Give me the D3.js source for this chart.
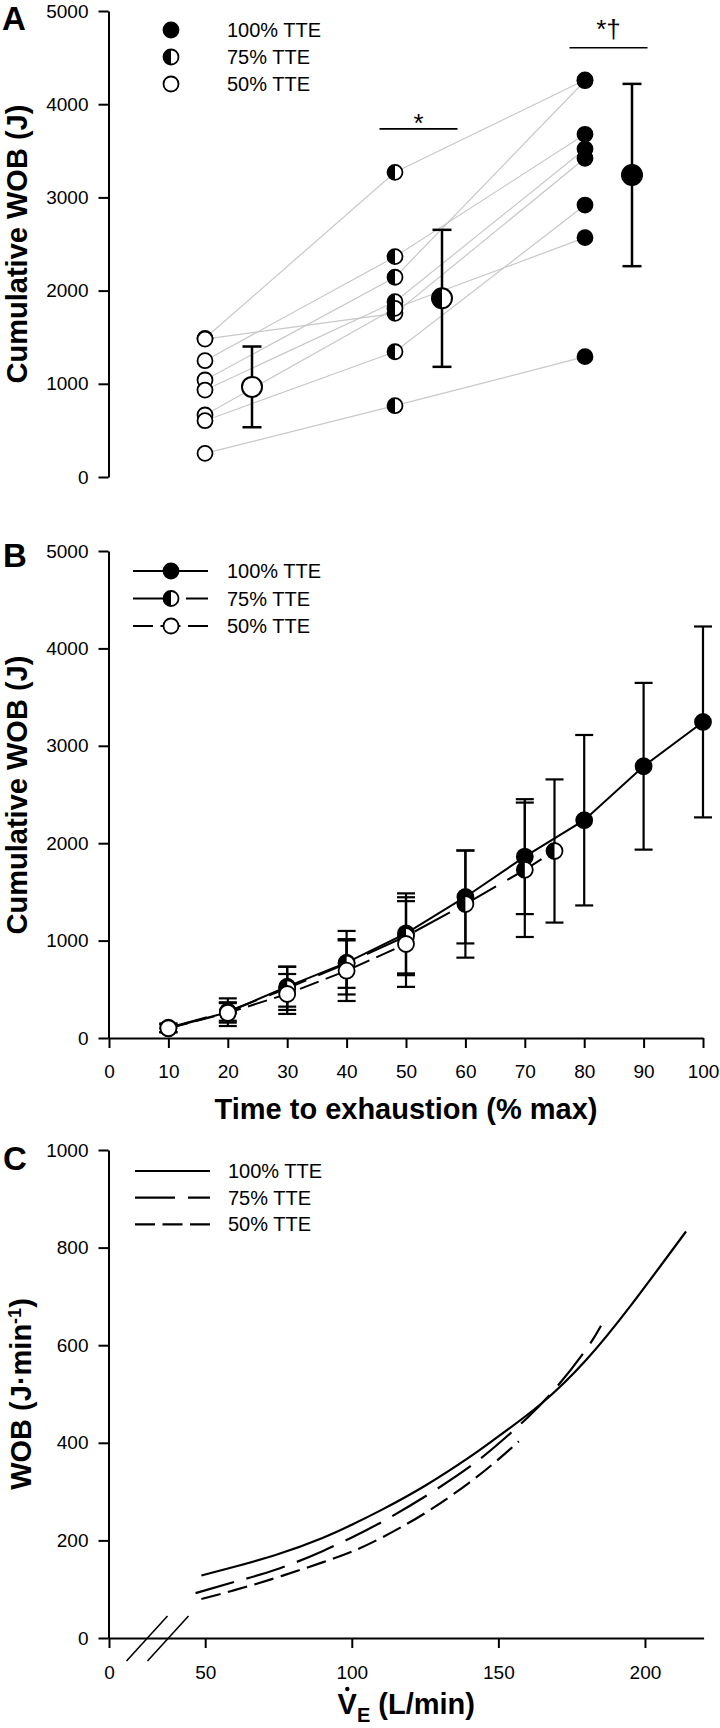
<!DOCTYPE html>
<html><head><meta charset="utf-8">
<script src="https://cdn.jsdelivr.net/npm/d3@7"></script>
<style>body{margin:0;background:#fff}</style>
</head><body>
<svg id="chart" width="720" height="1728"></svg>
<script>
// ---------- DATA ----------
const groupsA = ["50% TTE", "75% TTE", "100% TTE"];
const indiv50 = [1488, 1248, 1041, 933, 1480, 665, 604, 254];
const indiv75 = [3269, 2364, 2143, 1881, 1756, 1810, 1344, 765];
const indiv100 = [4260, 3677, 4252, 3519, 3420, 2568, 2918, 1291];
const meanA = [967, 1917, 3240];
const sdA = [433, 735, 978];
const sigLabels = ["*", "*\u2020"];
const sigLevels = [3735, 4605];
const yTicksWOB = [0, 1000, 2000, 3000, 4000, 5000];

const time100 = [10, 20, 30, 40, 50, 60, 70, 80, 90, 100];
const wob100 = [100, 265, 527, 773, 1074, 1448, 1862, 2236, 2790, 3245];
const sd100 = [40, 142, 205, 326, 411, 477, 590, 875, 856, 980];
const time75 = [10, 20, 30, 40, 50, 60, 70, 75];
const wob75 = [105, 272, 510, 765, 1045, 1375, 1727, 1920];
const sd75 = [45, 95, 222, 250, 400, 550, 690, 735];
const time50 = [10, 20, 30, 40, 50];
const wob50 = [100, 258, 452, 691, 965];
const sd50 = [40, 100, 205, 311, 440];
const xTicksTime = [0, 10, 20, 30, 40, 50, 60, 70, 80, 90, 100];

const ve100 = [48, 60, 75, 90, 100, 110, 125, 140, 150, 165, 180, 195, 214];
const pw100 = [128, 146, 172, 205, 232, 262, 312, 370, 413, 482, 570, 680, 833];
const ve75 = [45, 60, 75, 90, 100, 110, 125, 140, 150, 160, 170, 180, 185];
const pw75 = [92, 115, 142, 178, 206, 237, 290, 350, 398, 452, 515, 592, 640];
const ve50 = [48, 60, 75, 90, 100, 110, 125, 140, 150, 157];
const pw50 = [80, 98, 125, 155, 177, 205, 256, 318, 366, 403];
const xTicksVE = [0, 50, 100, 150, 200];
const yTicksPow = [0, 200, 400, 600, 800, 1000];
const legendLabels = ["100% TTE", "75% TTE", "50% TTE"];

// ---------- HELPERS ----------
const FONT = '"Liberation Sans", Arial, Helvetica, sans-serif';
const svg = d3.select("#chart");
svg.append("rect").attr("width", 720).attr("height", 1728).attr("fill", "#fff");

function styleAxis(g) {
  g.attr("font-family", FONT).attr("font-size", 19);
  g.selectAll("path.domain").attr("stroke", "#000").attr("stroke-width", 2);
  g.selectAll(".tick line").attr("stroke", "#000").attr("stroke-width", 2);
  g.selectAll(".tick text").attr("fill", "#000");
}
function marker(g, x, y, r, type, sw) {
  const m = g.append("g").attr("transform", `translate(${x},${y})`);
  m.append("circle").attr("r", r).attr("fill", type === "full" ? "#000" : "#fff")
    .attr("stroke", "#000").attr("stroke-width", sw);
  if (type === "half") m.append("path").attr("d", `M0,${-r}A${r},${r} 0 0 0 0,${r}Z`).attr("fill", "#000");
}
function errBar(g, x, y1, y2, half, sw) {
  g.append("line").attr("x1", x).attr("x2", x).attr("y1", y1).attr("y2", y2).attr("stroke", "#000").attr("stroke-width", sw);
  [y1, y2].forEach(y => g.append("line").attr("x1", x - half).attr("x2", x + half).attr("y1", y).attr("y2", y)
    .attr("stroke", "#000").attr("stroke-width", sw));
}
function panelLabel(t, x, y) {
  svg.append("text").attr("x", x).attr("y", y).attr("font-family", FONT).attr("font-weight", "bold")
    .attr("font-size", 33).text(t);
}
function yTitle(cx, cy, parts) {
  const t = svg.append("text").attr("transform", `translate(${cx},${cy}) rotate(-90)`)
    .attr("text-anchor", "middle").attr("font-family", FONT).attr("font-weight", "bold").attr("font-size", 29);
  parts(t);
  return t;
}
const AX = 108.5;
const typesOrder = ["full", "half", "open"];
const dashes = [null, "40,13", "20,7.5"];

// ---------- PANEL A ----------
const yA = d3.scaleLinear().domain([0, 5000]).range([477, 11]);
const xA = d3.scalePoint().domain(groupsA).range([205, 585]);
const meanOff = 47;
const gA = svg.append("g");
const indivAll = [indiv50, indiv75, indiv100];
const typesA = ["open", "half", "full"];
const lineA = d3.line().x(d => d[0]).y(d => d[1]);
d3.range(indiv50.length).forEach(i => {
  const pts = groupsA.map((g, k) => [xA(g), yA(indivAll[k][i])]);
  gA.append("path").attr("d", lineA(pts)).attr("fill", "none").attr("stroke", "#c8c8c8").attr("stroke-width", 1.2);
});
groupsA.forEach((g, k) => {
  indivAll[k].forEach(v => marker(gA, xA(g), yA(v), 7.5, typesA[k], 1.8));
  const mx = xA(g) + meanOff;
  errBar(gA, mx, yA(meanA[k] + sdA[k]), yA(meanA[k] - sdA[k]), 9.5, 2.5);
  marker(gA, mx, yA(meanA[k]), 10, typesA[k], 2);
});
// significance
[1, 2].forEach((k, j) => {
  const cx = xA(groupsA[k]) + meanOff / 2;
  const ly = yA(sigLevels[j]);
  gA.append("line").attr("x1", cx - 39).attr("x2", cx + 39).attr("y1", ly).attr("y2", ly)
    .attr("stroke", "#000").attr("stroke-width", 1.6);
  gA.append("text").attr("x", cx).attr("y", j === 0 ? ly + 3 : ly - 10).attr("text-anchor", "middle")
    .attr("font-family", FONT).attr("font-size", 26).text(sigLabels[j]);
});
const axA = svg.append("g").attr("transform", `translate(${AX},0)`)
  .call(d3.axisLeft(yA).tickValues(yTicksWOB).tickFormat(d3.format("d")).tickSize(10).tickPadding(10).tickSizeOuter(0));
styleAxis(axA);
// legend A
const legA = svg.append("g");
legendLabels.forEach((l, i) => {
  const y = 30 + i * 27;
  marker(legA, 171, y, 7.5, typesOrder[i], 1.8);
  legA.append("text").attr("x", 227).attr("y", y + 7).attr("font-family", FONT).attr("font-size", 20).text(l);
});
panelLabel("A", 2, 30);
yTitle(27, 244, t => t.text("Cumulative WOB (J)"));

// ---------- PANEL B ----------
const yB = d3.scaleLinear().domain([0, 5000]).range([1038, 551]);
const xB = d3.scaleLinear().domain([0, 100]).range([109, 703]);
const gB = svg.append("g");
const seriesB = [
  { x: time100, y: wob100, sd: sd100, type: "full", dash: dashes[0] },
  { x: time75, y: wob75, sd: sd75, type: "half", dash: dashes[1] },
  { x: time50, y: wob50, sd: sd50, type: "open", dash: dashes[2] }
];
seriesB.forEach(s => s.x.forEach((x, i) => errBar(gB, xB(x), yB(s.y[i] + s.sd[i]), yB(s.y[i] - s.sd[i]), 9, 2.2)));
const lineB = d3.line().x(d => xB(d[0])).y(d => yB(d[1]));
seriesB.forEach(s => {
  gB.append("path").attr("d", lineB(s.x.map((x, i) => [x, s.y[i]]))).attr("fill", "none")
    .attr("stroke", "#000").attr("stroke-width", 2).attr("stroke-dasharray", s.dash);
  s.x.forEach((x, i) => marker(gB, xB(x), yB(s.y[i]), 8, s.type, 1.8));
});
const axBy = svg.append("g").attr("transform", `translate(${AX},0)`)
  .call(d3.axisLeft(yB).tickValues(yTicksWOB).tickFormat(d3.format("d")).tickSize(10).tickPadding(10).tickSizeOuter(0));
styleAxis(axBy);
const axBx = svg.append("g").attr("transform", `translate(0,${yB(0)})`)
  .call(d3.axisBottom(xB).tickValues(xTicksTime).tickFormat(d3.format("d")).tickSize(10).tickPadding(17).tickSizeOuter(0));
styleAxis(axBx);
const legB = svg.append("g");
legendLabels.forEach((l, i) => {
  const y = 571 + i * 27.5;
  legB.append("line").attr("x1", 133).attr("x2", 208).attr("y1", y).attr("y2", y).attr("stroke", "#000")
    .attr("stroke-width", 2).attr("stroke-dasharray", dashes[i]);
  marker(legB, 171, y, 7.5, typesOrder[i], 1.8);
  legB.append("text").attr("x", 227).attr("y", y + 7).attr("font-family", FONT).attr("font-size", 20).text(l);
});
svg.append("text").attr("x", (xB(0) + xB(100)) / 2).attr("y", 1119).attr("text-anchor", "middle")
  .attr("font-family", FONT).attr("font-weight", "bold").attr("font-size", 29).text("Time to exhaustion (% max)");
panelLabel("B", 3, 567);
yTitle(27, 795, t => t.text("Cumulative WOB (J)"));

// ---------- PANEL C ----------
const yC = d3.scaleLinear().domain([0, 1000]).range([1638, 1150]);
const xC = d3.scaleLinear().domain([0, 50, 220]).range([109, 205.2, 703.6]);
const gC = svg.append("g");
const lineC = d3.line().x(d => xC(d[0])).y(d => yC(d[1])).curve(d3.curveNatural);
[[ve100, pw100], [ve75, pw75], [ve50, pw50]].forEach((s, i) => {
  gC.append("path").attr("d", lineC(s[0].map((v, j) => [v, s[1][j]]))).attr("fill", "none")
    .attr("stroke", "#000").attr("stroke-width", 2.2).attr("stroke-dasharray", dashes[i]);
});
const axCy = svg.append("g").attr("transform", `translate(${AX},0)`)
  .call(d3.axisLeft(yC).tickValues(yTicksPow).tickFormat(d3.format("d")).tickSize(10).tickPadding(10).tickSizeOuter(0));
styleAxis(axCy);
const axCx = svg.append("g").attr("transform", `translate(0,${yC(0)})`)
  .call(d3.axisBottom(xC).tickValues(xTicksVE).tickFormat(d3.format("d")).tickSize(10).tickPadding(18).tickSizeOuter(0));
styleAxis(axCx);
// axis break marks
[147, 168].forEach(cx => {
  gC.append("line").attr("x1", cx - 20.5).attr("x2", cx + 20.5).attr("y1", yC(0) + 23).attr("y2", yC(0) - 22)
    .attr("stroke", "#000").attr("stroke-width", 1.6);
});
const legC = svg.append("g");
legendLabels.forEach((l, i) => {
  const y = 1171 + i * 26.7;
  legC.append("line").attr("x1", 135).attr("x2", 210).attr("y1", y).attr("y2", y).attr("stroke", "#000")
    .attr("stroke-width", 2.2).attr("stroke-dasharray", dashes[i]);
  legC.append("text").attr("x", 228).attr("y", y + 7).attr("font-family", FONT).attr("font-size", 20).text(l);
});
// x title with dot and subscript
const xt = svg.append("text").attr("x", (xC(0) + xC(220)) / 2).attr("y", 1714).attr("text-anchor", "middle")
  .attr("font-family", FONT).attr("font-weight", "bold").attr("font-size", 29);
xt.append("tspan").text("V");
xt.append("tspan").attr("dy", 8).attr("font-size", 20).text("E");
xt.append("tspan").attr("dy", -8).text(" (L/min)");
const n = xt.node();
const s0 = n.getStartPositionOfChar(0), e0 = n.getEndPositionOfChar(0);
svg.append("circle").attr("cx", (s0.x + e0.x) / 2).attr("cy", 1714 - 25).attr("r", 2.2).attr("fill", "#000");
panelLabel("C", 3, 1170);
yTitle(31, 1394, t => {
  t.append("tspan").text("WOB (J\u00B7min");
  t.append("tspan").attr("dy", -10).attr("font-size", 18).text("-1");
  t.append("tspan").attr("dy", 10).text(")");
});
</script>
</body></html>
